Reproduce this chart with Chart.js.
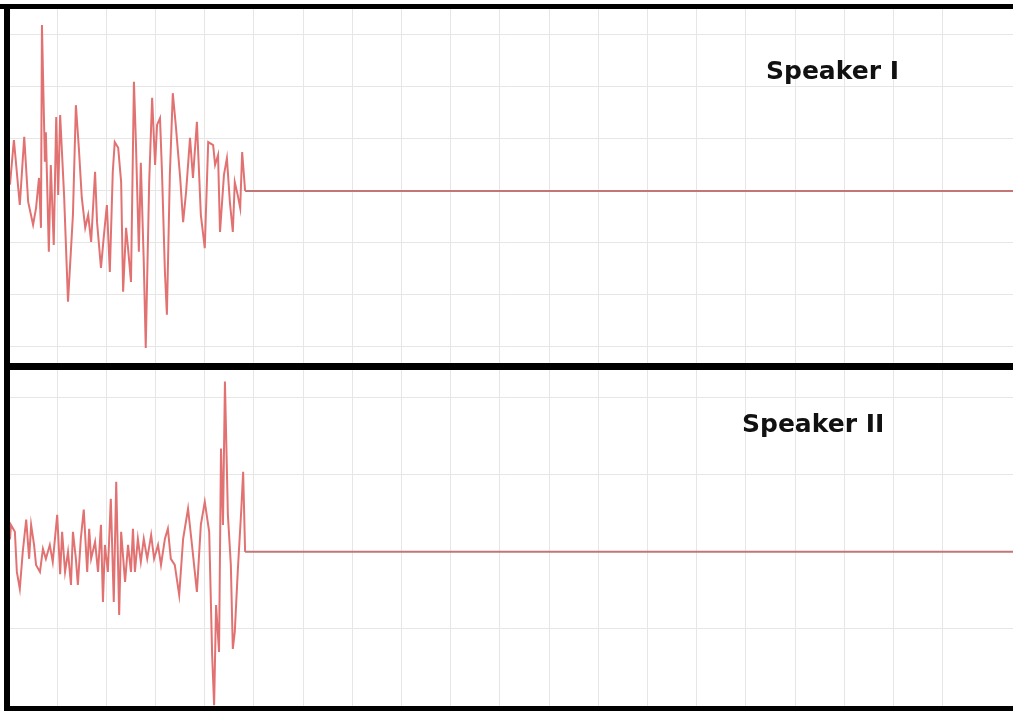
<!DOCTYPE html>
<html>
<head>
<meta charset="utf-8">
<script src="https://cdn.jsdelivr.net/npm/chart.js@4.4.1/dist/chart.umd.min.js"></script>
<style>
  html, body { margin: 0; padding: 0; background: #fff; width: 1013px; height: 711px; overflow: hidden; }
  canvas { position: absolute; }
  .bar { position: absolute; background: #000; }
  .lbl { position: absolute; font-family: "DejaVu Sans", sans-serif; font-weight: bold; font-size: 25px; line-height: 1; color: #111; white-space: nowrap; }
</style>
</head>
<body>
<canvas id="top" width="1005" height="354" style="left:8px; top:9px;"></canvas>
<canvas id="bot" width="1005" height="336" style="left:8px; top:370px;"></canvas>

<div class="bar" style="left:0; top:4px; width:1013px; height:5px;"></div>
<div class="bar" style="left:4px; top:4px; width:6px; height:707px;"></div>
<div class="bar" style="left:4px; top:363px; width:1009px; height:7px;"></div>
<div class="bar" style="left:4px; top:706px; width:1009px; height:5px;"></div>

<div class="lbl" style="left:766px; top:58px;">Speaker I</div>
<div class="lbl" style="left:742px; top:411px;">Speaker II</div>

<script>
// ---- Data (time in ms, amplitude in grid units) ----
const topTime = [0.4, 1.2, 2.4, 3.3, 4.1, 5.1, 5.7, 6.3, 6.7, 6.9, 7.5, 7.7, 8.3, 8.7, 9.3, 9.8, 10.2, 10.6, 11.4, 12.2,
  13.2, 13.8, 14.4, 15.0, 15.7, 16.3, 16.9, 17.7, 18.1, 18.9, 19.5, 20.1, 20.7, 21.3, 21.7, 22.4, 23.0, 23.4, 24.0, 24.4,
  25.0, 25.6, 26.0, 26.6, 27.0, 27.6, 28.0, 28.7, 29.3, 29.9, 30.3, 30.9, 31.3, 31.9, 32.3, 32.9, 33.5, 34.1, 35.0, 35.6,
  36.2, 37.0, 37.6, 38.4, 39.2, 40.0, 40.7, 41.7, 42.1, 42.7, 43.1, 43.9, 44.5, 45.1, 45.7, 46.1, 46.7, 47.2, 47.6, 48.2, 204.3];
const topAmp = [0.12, 0.98, -0.27, 1.04, -0.21, -0.65, -0.33, 0.25, -0.71, 3.19, 0.56, 1.13, -1.17, 0.50, -1.04, 1.42, -0.08, 1.46, -0.08, -2.13,
  -0.46, 1.65, 0.83, -0.13, -0.71, -0.46, -0.98, 0.37, -0.60, -1.48, -0.85, -0.27, -1.56, 0.37, 0.94, 0.83, 0.17, -1.94, -0.71, -1.10,
  -1.75, 2.10, 0.94, -1.17, 0.54, -1.37, -3.02, 0.17, 1.79, 0.50, 1.27, 1.40, 0.37, -1.56, -2.38, 0.31, 1.88, 1.27, 0.25, -0.60,
  -0.02, 1.02, 0.25, 1.33, -0.46, -1.10, 0.94, 0.88, 0.50, 0.69, -0.79, 0.31, 0.63, -0.21, -0.79, 0.17, -0.08, -0.33, 0.75, 0.00, 0.00];

const botTime = [0.4, 0.6, 1.4, 1.8, 2.4, 3.0, 3.7, 4.3, 4.7, 5.3, 5.7, 6.5, 7.1, 7.7, 8.5, 9.1, 10.0, 10.6, 11.0, 11.6,
  12.2, 12.8, 13.2, 13.8, 14.2, 14.8, 15.4, 16.1, 16.5, 16.9, 17.7, 18.3, 18.9, 19.3, 19.7, 20.3, 20.9, 21.5, 22.0, 22.6,
  23.0, 23.8, 24.4, 25.0, 25.4, 25.8, 26.4, 27.0, 27.6, 28.3, 29.1, 29.7, 30.5, 31.1, 31.9, 32.5, 33.1, 33.9, 34.8, 35.6,
  36.6, 37.4, 38.4, 39.2, 40.0, 40.9, 41.5, 41.9, 42.3, 42.9, 43.3, 43.7, 44.1, 44.7, 45.3, 45.7, 46.1, 46.7, 47.4, 47.8, 48.2, 204.3];
const botAmp = [0.16, 0.35, 0.26, -0.26, -0.48, 0.00, 0.42, -0.09, 0.35, 0.09, -0.17, -0.26, 0.04, -0.09, 0.09, -0.13, 0.48, -0.29, 0.26, -0.26,
  0.00, -0.43, 0.26, -0.09, -0.43, 0.17, 0.55, -0.26, 0.30, -0.09, 0.13, -0.26, 0.35, -0.65, 0.09, -0.26, 0.69, -0.65, 0.91, -0.82,
  0.26, -0.39, 0.09, -0.26, 0.30, -0.26, 0.17, -0.13, 0.17, -0.09, 0.22, -0.09, 0.09, -0.17, 0.17, 0.30, -0.09, -0.17, -0.56, 0.17,
  0.56, 0.09, -0.52, 0.35, 0.65, 0.26, -1.34, -1.99, -0.69, -1.30, 1.34, 0.35, 2.21, 0.48, -0.17, -1.26, -1.04, -0.26, 0.52, 1.04, 0.00, 0.00];

const xMax = 204.3;
const topRange = [-3.31, 3.5];
const botRange = [-2.0, 2.36];
const topTicks = [-3, -2, -1, 0, 1, 2, 3];
const botTicks = [-2, -1, 0, 1, 2];
const signalEnd = 48;

function makeChart(id, times, amps, range, ticks) {
  return new Chart(document.getElementById(id), {
    type: 'line',
    data: {
      datasets: [{
        data: times.map((t, i) => ({ x: t, y: amps[i] })),
        borderColor: '#e27272',
        borderWidth: 2,
        pointRadius: 0,
        tension: 0,
        fill: false,
        segment: {
          borderColor: ctx => ctx.p0.parsed.x >= signalEnd ? '#c27676' : '#e27272'
        }
      }]
    },
    options: {
      responsive: false,
      animation: false,
      devicePixelRatio: 1,
      layout: { padding: 0 },
      plugins: { legend: { display: false }, tooltip: { enabled: false }, title: { display: false } },
      scales: {
        x: {
          type: 'linear', min: 0, max: xMax,
          ticks: { display: false, stepSize: 10 },
          grid: { color: '#e6e6e6', lineWidth: 1, drawTicks: false },
          border: { display: false }
        },
        y: {
          type: 'linear', min: range[0], max: range[1],
          afterBuildTicks: s => { s.ticks = ticks.map(v => ({ value: v })); },
          ticks: { display: false },
          grid: { color: '#e6e6e6', lineWidth: 1, drawTicks: false },
          border: { display: false }
        }
      }
    }
  });
}

makeChart('top', topTime, topAmp, topRange, topTicks);
makeChart('bot', botTime, botAmp, botRange, botTicks);
</script>
</body>
</html>
